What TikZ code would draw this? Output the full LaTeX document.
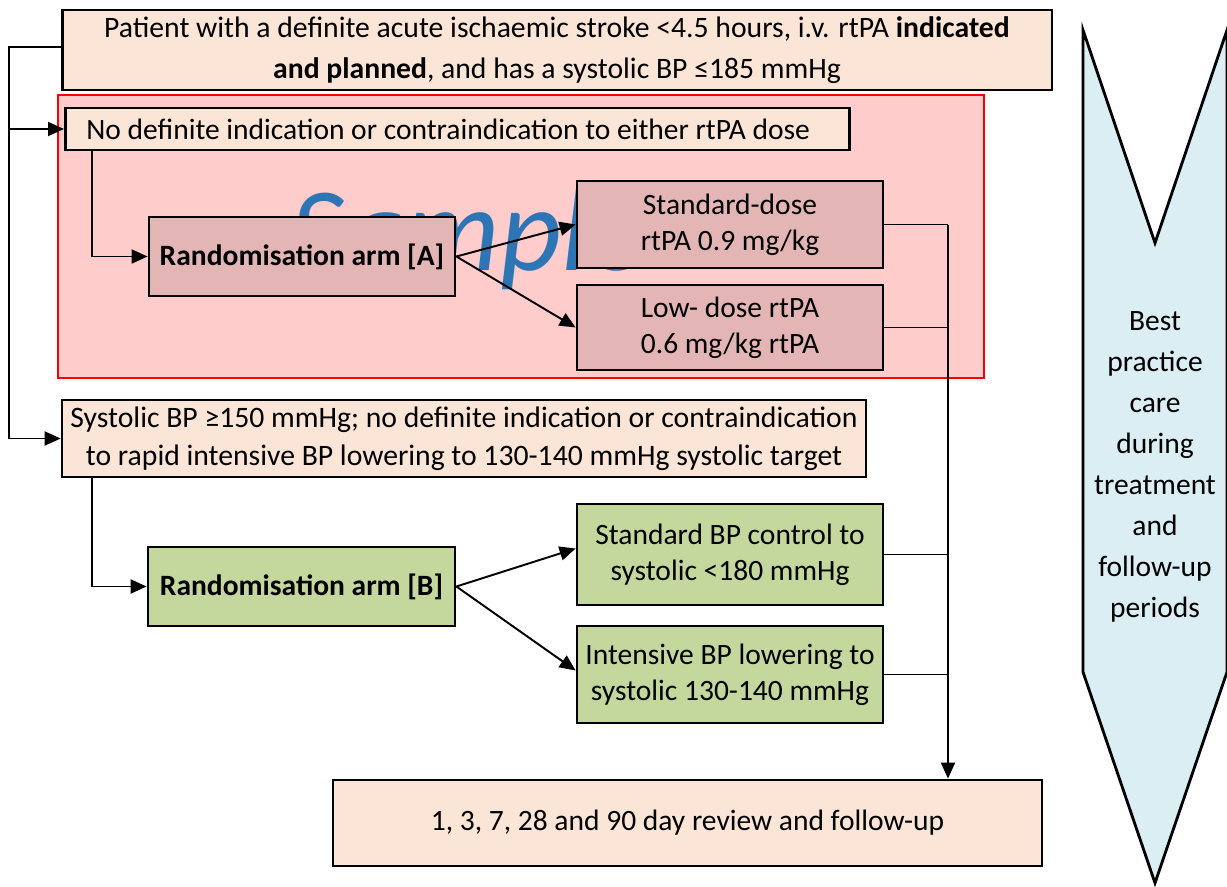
\documentclass[tikz,border=0pt]{standalone}
\usepackage{fontspec}
\setmainfont{Carlito}
\usetikzlibrary{arrows.meta}
\definecolor{peach}{HTML}{FBE5D6}
\definecolor{zonered}{HTML}{FFCCCC}
\definecolor{armA}{HTML}{E4B5B5}
\definecolor{armB}{HTML}{C4D79C}
\definecolor{careblue}{HTML}{DAEEF3}
\definecolor{wmblue}{HTML}{2E75B6}

\begin{document}
\begin{tikzpicture}[x=0.02cm, y=-0.02cm,
    box/.style={draw, line width=1.6pt, inner sep=0pt, align=center,
        font=\fontsize{16.8}{20.5}\selectfont},
    conn/.style={line width=1.1pt},
    arr/.style={conn, -{Triangle[length=0.32cm,width=0.28cm]}}]
    \useasboundingbox (0,0) rectangle (1227,886);
    % shaded zone and watermark
    \draw[red, fill=zonered, line width=0.8pt] (58,95) rectangle (984,378);
    \node[anchor=base west, text=wmblue, inner sep=0pt,
        font=\fontsize{68}{68}\itshape] (wm) at (290,270) {Sample};
    % right hand chevron
    \draw[fill=careblue, line width=1.6pt, line join=miter]
        (1083,30) -- (1155,243) -- (1227,30) -- (1227,672)
        -- (1155,883) -- (1083,672) -- cycle;
    \node[align=center, font=\fontsize{16.8}{23.4}\selectfont] (care) at (1155,467)
        {Best\\practice\\care\\during\\treatment\\and\\follow-up\\periods};
    \begin{scope}[every node/.style={box}]
        \node[fill=peach, minimum width=19.8cm, minimum height=1.6cm,
            font=\fontsize{16.9}{23.2}\selectfont] (top) at (557,50)
            {Patient with a definite acute ischaemic stroke <4.5 hours, i.v. rtPA \textbf{indicated}\\
             \textbf{and planned}, and has a systolic BP ≤185 mmHg};
        \node[fill=peach, anchor=west, text width=14.84cm, inner xsep=0.42cm,
            minimum height=0.84cm, align=flush left] (nodef) at (64,129)
            {No definite indication or contraindication to either rtPA dose};
        \node[fill=armA, minimum width=6.12cm, minimum height=1.58cm,
            font=\fontsize{16.8}{20.5}\selectfont\bfseries] (randA) at (302,256.5)
            {Randomisation arm [A]};
        \node[fill=armA, minimum width=6.12cm, minimum height=1.74cm] (stdose) at (730,224.5)
            {Standard-dose\\rtPA 0.9 mg/kg};
        \node[fill=armA, minimum width=6.12cm, minimum height=1.7cm] (lowdose) at (730,327.5)
            {Low- dose rtPA\\0.6 mg/kg rtPA};
        \node[fill=peach, minimum width=16.08cm, minimum height=1.54cm,
            font=\fontsize{16.9}{21.5}\selectfont] (sysbp) at (464,438.5)
            {Systolic BP ≥150 mmHg; no definite indication or contraindication\\
             to rapid intensive BP lowering to 130-140 mmHg systolic target};
        \node[fill=armB, minimum width=6.14cm, minimum height=1.58cm,
            font=\fontsize{16.8}{20.5}\selectfont\bfseries] (randB) at (301.5,586.5)
            {Randomisation arm [B]};
        \node[fill=armB, minimum width=6.12cm, minimum height=2.02cm] (stdbp) at (730,554.5)
            {Standard BP control to\\systolic <180 mmHg};
        \node[fill=armB, minimum width=6.12cm, minimum height=1.94cm] (intbp) at (730,674.5)
            {Intensive BP lowering to\\systolic 130-140 mmHg};
        \node[fill=peach, minimum width=14.18cm, minimum height=1.72cm] (fup) at (687.5,823)
            {1, 3, 7, 28 and 90 day review and follow-up};
    \end{scope}
    % connectors
    \coordinate (ltop) at (9,47);
    \coordinate (lbot) at (9,438.5);
    \coordinate (col) at (948,0);
    \draw[arr] (top.west |- ltop) -- (ltop) -- (lbot) -- (sysbp.west);
    \draw[arr] (ltop |- nodef.west) -- (nodef.west);
    \draw[arr] ([xshift=0.56cm]nodef.south west) |- (randA.west);
    \draw[arr] ([xshift=0.62cm]sysbp.south west) |- (randB.west);
    \path[arr] (randA.east)
        edge (stdose.west)
        edge (lowdose.west);
    \path[arr] (randB.east)
        edge ([yshift=0.12cm]stdbp.west)
        edge ([yshift=0.08cm]intbp.west);
    \draw[conn] (stdose.east) -- (stdose.east -| col);
    \draw[conn] (lowdose.east) -- (lowdose.east -| col);
    \draw[conn] (stdbp.east) -- (stdbp.east -| col);
    \draw[conn] (intbp.east) -- (intbp.east -| col);
    \draw[arr] (stdose.east -| col) -- (col |- fup.north);
\end{tikzpicture}
\end{document}
